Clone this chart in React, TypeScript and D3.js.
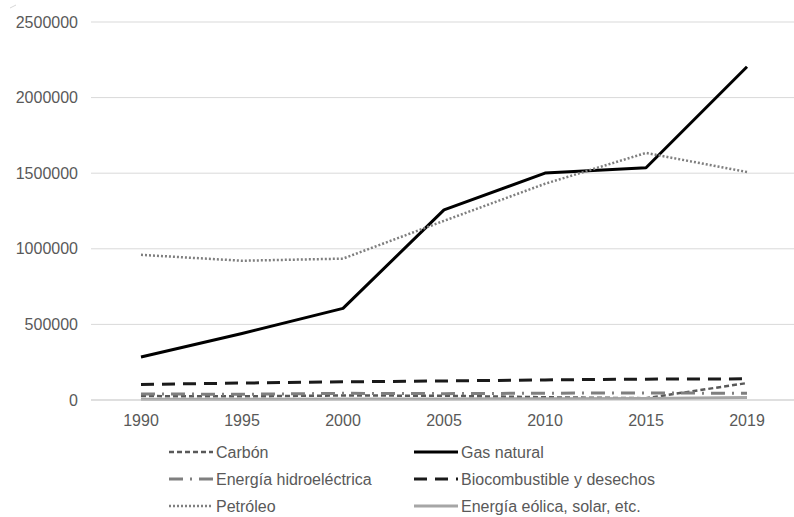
import React from "react";
import * as d3 from "d3";

const years = ["1990", "1995", "2000", "2005", "2010", "2015", "2019"];
const yTicks = [0, 500000, 1000000, 1500000, 2000000, 2500000];

const carbon = [26000, 24000, 30000, 28000, 18000, 12000, 112000];
const gasNatural = [284000, 440000, 606000, 1257000, 1501000, 1536000, 2204000];
const hidro = [40000, 38000, 44000, 42000, 45000, 47000, 44000];
const biocombustible = [103000, 112000, 120000, 126000, 133000, 138000, 140000];
const petroleo = [960000, 921000, 935000, 1185000, 1430000, 1634000, 1508000];
const eolica = [5000, 5000, 6000, 7000, 8000, 10000, 16000];

type Series = {
  name: string;
  values: number[];
  color: string;
  width: number;
  dash: string;
};

const series: Series[] = [
  { name: "Carbón", values: carbon, color: "#595959", width: 2.5, dash: "5 3" },
  { name: "Gas natural", values: gasNatural, color: "#000000", width: 3, dash: "" },
  { name: "Energía hidroeléctrica", values: hidro, color: "#7f7f7f", width: 3, dash: "14 7 2 7" },
  { name: "Biocombustible y desechos", values: biocombustible, color: "#1a1a1a", width: 3, dash: "13 8" },
  { name: "Petróleo", values: petroleo, color: "#7f7f7f", width: 2.5, dash: "2 2" },
  { name: "Energía eólica, solar, etc.", values: eolica, color: "#a6a6a6", width: 3, dash: "" },
];

const W = 794;
const H = 517;

export default function App() {
  const x = d3.scaleBand<string>().domain(years).range([90.5, 797.5]);
  const y = d3.scaleLinear().domain([0, 2500000]).range([400, 22]);
  const cx = (d: string) => (x(d) as number) + x.bandwidth() / 2;
  const line = d3
    .line<number>()
    .x((_, i) => cx(years[i]))
    .y((v) => y(v));

  const font = "'Liberation Sans', Arial, sans-serif";
  const legendRows = [452, 479, 506];
  const legendCols = [169, 414];
  const symbolLen = 44;

  return (
    <svg
      width={W}
      height={H}
      style={{ position: "absolute", left: 0, top: 0, background: "#fff" }}
      fontFamily={font}
    >
      <rect width={W} height={H} fill="#fff" />
      <line x1={10} y1={8} x2={16} y2={5} stroke="#cccccc" strokeWidth={0.8} />
      {yTicks.map((t) => (
        <g key={t}>
          {t > 0 && (
            <line x1={91} x2={W} y1={y(t)} y2={y(t)} stroke="#d9d9d9" strokeWidth={1} />
          )}
          <text
            x={78}
            y={y(t)}
            dy="0.35em"
            textAnchor="end"
            fontSize={16}
            fill="#595959"
          >
            {t}
          </text>
        </g>
      ))}
      {series.map((s) => (
        <path
          key={s.name}
          d={line(s.values) || ""}
          fill="none"
          stroke={s.color}
          strokeWidth={s.width}
          strokeDasharray={s.dash || undefined}
          strokeLinejoin="round"
        />
      ))}
      <line x1={91} x2={W} y1={y(0)} y2={y(0)} stroke="#bfbfbf" strokeWidth={1.2} />
      {years.map((yr) => (
        <text
          key={yr}
          x={cx(yr)}
          y={426}
          textAnchor="middle"
          fontSize={16}
          fill="#595959"
        >
          {yr}
        </text>
      ))}
      {series.map((s, i) => {
        const col = i % 2;
        const row = Math.floor(i / 2);
        const lx = legendCols[col];
        const ly = legendRows[row];
        return (
          <g key={s.name}>
            <line
              x1={lx}
              x2={lx + symbolLen}
              y1={ly}
              y2={ly}
              stroke={s.color}
              strokeWidth={s.width}
              strokeDasharray={s.dash || undefined}
            />
            <text x={lx + symbolLen + 3} y={ly} dy="0.35em" fontSize={16} fill="#595959">
              {s.name}
            </text>
          </g>
        );
      })}
    </svg>
  );
}
